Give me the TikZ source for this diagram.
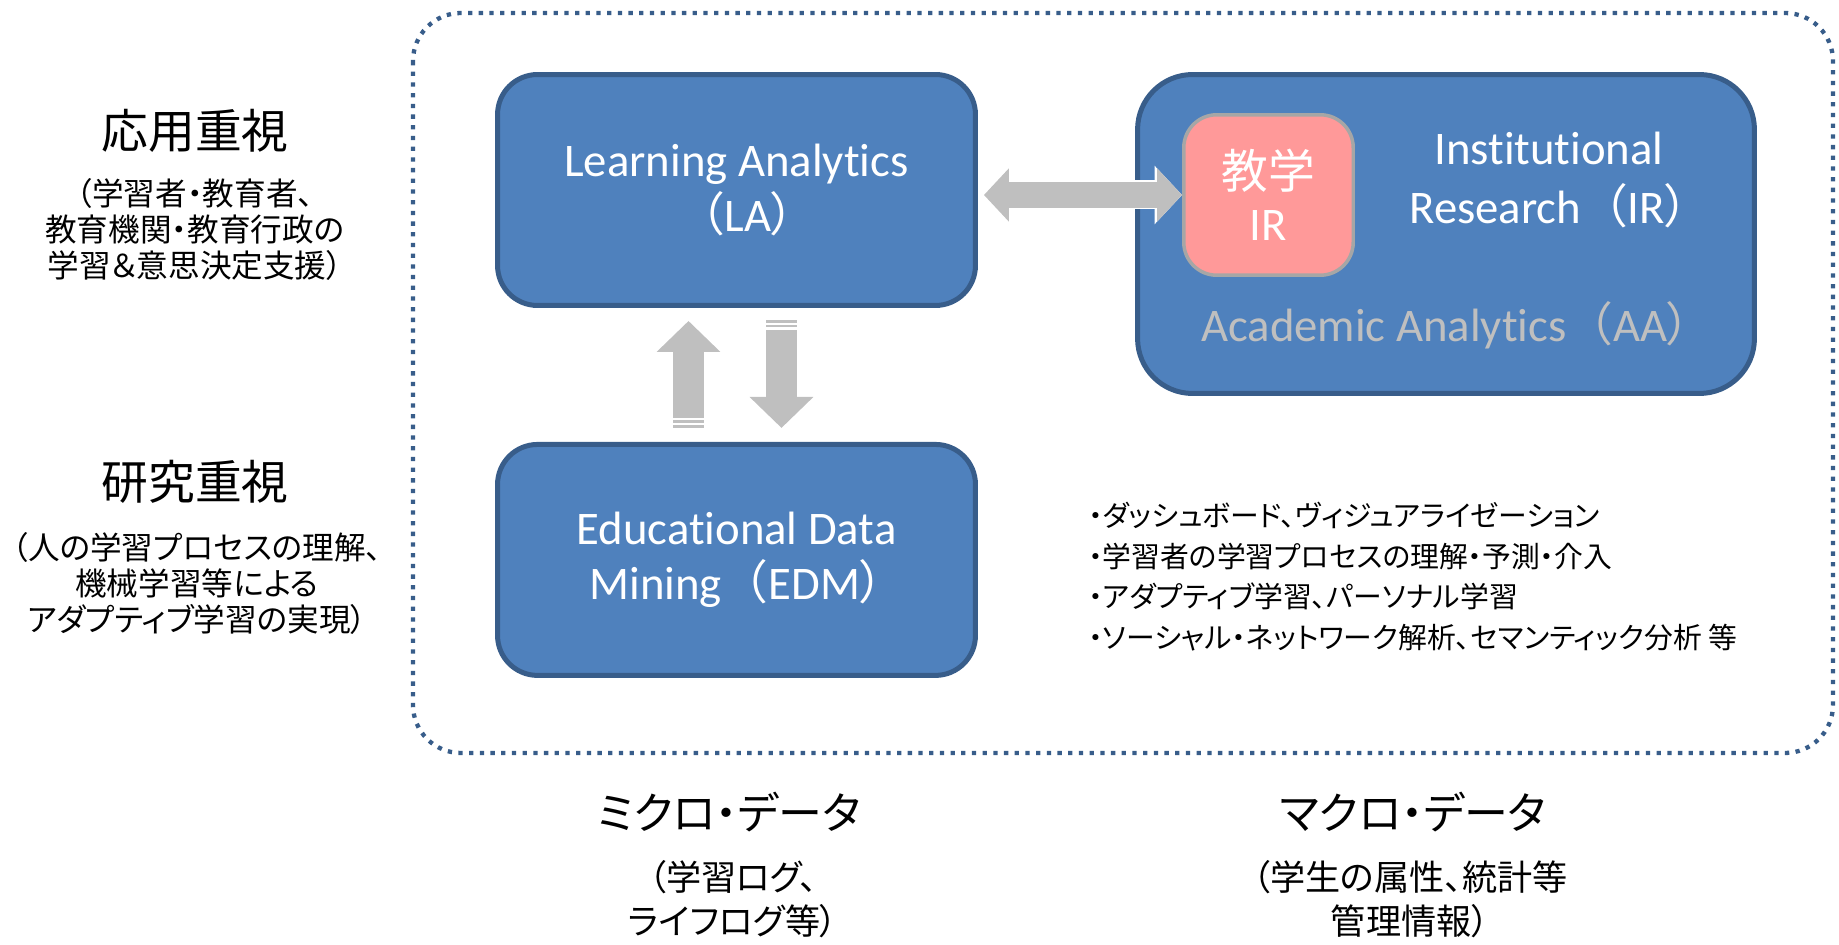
\documentclass[tikz,border=0pt]{standalone}
\usepackage{fontspec}
\setmainfont{Carlito}[Ligatures={NoCommon,NoContextual}, Contextuals=NoAlternate]
\newfontfamily\jp[RawFeature=+palt]{Noto Sans CJK JP}
\newfontfamily\jpfull{Noto Sans CJK JP}
\usepackage{xcolor}
\definecolor{colorBox}{HTML}{4F81BD}
\definecolor{colorBoxLine}{HTML}{385D8A}
\definecolor{colorEduIR}{HTML}{FF9999}
\definecolor{colorEduIRLine}{HTML}{A6A6A6}
\definecolor{colorArrow}{HTML}{BFBFBF}
\colorlet{colorAAText}{colorArrow}
\usetikzlibrary{arrows.meta, positioning}
\newcommand{\jlp}{{\jpfull （}}
\newcommand{\jrp}{{\jp ）}}
% keeps t and i apart (Carlito joins them)
\newcommand{\tsep}{t\kern0pt i}
\tikzset{
  bluebox/.style={draw=colorBoxLine, fill=colorBox, line width=0.1cm, rounded corners=0.8cm,
    text=white, align=center, inner sep=0pt, font=\fontsize{26.6}{31}\selectfont},
  eduirbox/.style={draw=colorEduIRLine, fill=colorEduIR, line width=0.07cm, rounded corners=0.66cm,
    text=white, align=center, inner sep=0pt, minimum width=3.39cm, minimum height=3.21cm,
    font=\fontsize{26.6}{29.5}\selectfont},
  boxtext/.style={text=white, align=center, inner sep=0pt, font=\fontsize{26.6}{33.4}\selectfont},
  headtext/.style={inner sep=0pt, font=\jp\fontsize{26.6}{32}\selectfont},
  subtext/.style={inner sep=0pt, align=center, font=\jp\fontsize{18}{20.4}\selectfont},
  datahead/.style={inner sep=0pt, font=\jp\fontsize{25}{30}\selectfont},
  datasub/.style={inner sep=0pt, align=center, font=\jp\fontsize{20}{25}\selectfont},
  bullets/.style={inner sep=0pt, align=left, font=\jp\fontsize{16.4}{23.2}\selectfont},
  frame/.style={draw=colorBoxLine, line width=0.086cm, dash pattern=on 0.086cm off 0.128cm, rounded corners=0.96cm},
  vertarrow/.style={draw=colorArrow, line width=0.62cm, -{Triangle[length=0.62cm, width=1.24cm]}},
  stripebar/.style={draw=colorArrow, line width=0.05cm},
  botharrow/.style={draw=colorArrow, line width=0.52cm,
    {Triangle[length=0.5cm, width=1.04cm]}-{Triangle[length=0.5cm, width=1.04cm]},
    preaction={draw=white, line width=0.58cm,
      arrows={Triangle[length=0.55cm, width=1.14cm]}-{Triangle[length=0.55cm, width=1.14cm]}}}
}

\begin{document}
\begin{tikzpicture}[x=0.02cm, y=-0.02cm]
\useasboundingbox (0,0) rectangle (1839,945);

% dotted frame round the analytics
\draw[frame] (413,13) rectangle (1833,753);

% left column
\node[headtext] (apphead) at (195,131) {応用重視};
\node[subtext] (appsub) at (195,229.5) {（学習者・教育者、\\教育機関・教育行政の\\学習＆意思決定支援）};
\node[headtext] (reshead) at (195,482) {研究重視};
\node[subtext] (ressub) at (197,583.5) {（人の学習プロセスの理解、\\機械学習等による\\アダプティブ学習の実現）};

% boxes
\node[bluebox, minimum width=9.56cm, minimum height=4.62cm] (la) at (736.5,190) {Learning Analy\tsep cs\\\jlp LA\jrp};
\node[bluebox, minimum width=9.56cm, minimum height=4.62cm, below=2.68cm of la] (edm) {Educa\tsep onal Data\\Mining\jlp EDM\jrp};
\node[bluebox, minimum width=12.34cm, minimum height=6.38cm, rounded corners=1.1cm] (aa) at (1446,234) {};
\node[eduirbox] (eduir) at (1268.5,195) {{\jp 教学}\\IR};
\node[boxtext] (irtext) at (1549,180) {Ins\tsep tu\tsep onal\\Research\jlp IR\jrp};
\node[boxtext, text=colorAAText] (aatext) at (1446,325) {Academic Analy\tsep cs\jlp AA\jrp};

% arrows
\draw[botharrow, shorten <=0.12cm] (la.east |- eduir.west) -- (eduir.west);
\draw[vertarrow, shorten <=0.48cm, shorten >=0.26cm] ([xshift=-0.96cm]edm.north) -- ([xshift=-0.96cm]la.south);
\draw[vertarrow, shorten <=0.44cm, shorten >=0.28cm] ([xshift=0.9cm]la.south) -- ([xshift=0.9cm]edm.north);
\foreach \y in {421.5,426.3} \draw[stripebar] (673,\y) -- (704,\y);
\foreach \y in {321.7,326} \draw[stripebar] (766,\y) -- (797,\y);

% what the analytics do
\node[bullets, anchor=west] (uses) at (1088,576.5) {・ダッシュボード、ヴィジュアライゼーション\\・学習者の学習プロセスの理解・予測・介入\\・アダプティブ学習、パーソナル学習\\・ソーシャル・ネットワーク解析、セマンティック分析 等};

% bottom
\node[datahead] (microhead) at (729,812) {ミクロ・データ};
\node[datasub] (microsub) at (733,899) {（学習ログ、\\ライフログ等）};
\node[datahead] (macrohead) at (1413,812) {マクロ・データ};
\node[datasub] (macrosub) at (1410,899) {（学生の属性、統計等\\管理情報）};
\end{tikzpicture}
\end{document}
